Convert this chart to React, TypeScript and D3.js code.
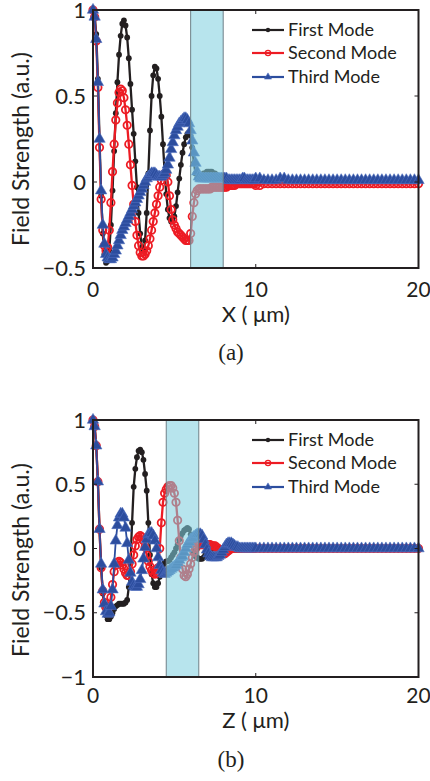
import React from "react";
import * as d3 from "d3";

// sampling positions (µm): 0.1 step up to 9.9, then 0.25 step to 20
const X_FINE = d3.range(100).map((i) => +(i * 0.1).toFixed(1));
const X_TAIL = d3.range(41).map((i) => 10 + i * 0.25);
const X_SAMPLES = X_FINE.concat(X_TAIL);

const xTicks = [0, 10, 20];
const xTickLabels = ["0", "10", "20"];
const aYTicks = [-0.5, 0, 0.5, 1];
const aYTickLabels = ["\u22120.5", "0", "0.5", "1"];
const bYTicks = [-1, -0.5, 0, 0.5, 1];
const bYTickLabels = ["\u22121", "\u22120.5", "0", "0.5", "1"];
const seriesNames = ["First Mode", "Second Mode", "Third Mode"];
const aBand = [6, 8];
const bBand = [4.5, 6.5];

// ---- panel (a) ----
const aFirst = [
  1.0, 0.97, 0.86, 0.6, 0.25, -0.08, -0.3, -0.42, -0.47, -0.46,
  -0.4, -0.25, -0.05, 0.18, 0.4, 0.58, 0.74, 0.85, 0.92, 0.94,
  0.91, 0.84, 0.72, 0.57, 0.42, 0.28, 0.12, -0.03, -0.18, -0.3,
  -0.38, -0.4, -0.34, -0.18, 0.05, 0.3, 0.5, 0.62, 0.67, 0.66,
  0.6, 0.5, 0.38, 0.22, 0.06, -0.07, -0.16, -0.21, -0.23, -0.23,
  -0.2, -0.14, -0.06, 0.02, 0.1, 0.17, 0.22, 0.26, 0.28, 0.29,
  0.27, 0.2, 0.11, 0.05, 0.02, 0.02, 0.03, 0.04, 0.05, 0.05,
  0.06, 0.06, 0.06, 0.06, 0.05, 0.05, 0.04, 0.03, 0.03, 0.02,
  0.02, 0.02, 0.02, 0.02, 0.02, 0.01, 0.01, 0.01, 0.01, 0.01,
  0.01, 0.01, 0.01, 0.01, 0.01, 0.01, 0.01, 0.01, 0.01, 0.01,
  0.01, 0.01, 0.02, 0.01, 0.01, 0.01, 0.01, 0.01, 0.01, 0.01,
  0.01, 0.01, 0.01, 0.01, 0.01, 0.01, 0.01, 0.01, 0.01, 0.01,
  0.01, 0.01, 0.01, 0.01, 0.01, 0.01, 0.01, 0.01, 0.01, 0.01,
  0.01, 0.01, 0.01, 0.01, 0.01, 0.01, 0.01, 0.01, 0.01, 0.01,
  0.01,
];
const aSecond = [
  1.0, 0.96, 0.82, 0.55, 0.2, -0.1, -0.28, -0.37, -0.4, -0.38,
  -0.28, -0.12, 0.06, 0.22, 0.36, 0.46, 0.52, 0.54, 0.53, 0.49,
  0.42, 0.33, 0.22, 0.1, -0.02, -0.13, -0.23, -0.31, -0.37, -0.41,
  -0.43, -0.43, -0.42, -0.4, -0.37, -0.33, -0.28, -0.23, -0.18, -0.13,
  -0.08, -0.03, 0.01, 0.04, 0.05, 0.04, 0.0, -0.08, -0.16, -0.22,
  -0.25, -0.27, -0.29, -0.3, -0.31, -0.32, -0.33, -0.34, -0.34, -0.34,
  -0.3, -0.2, -0.12, -0.07, -0.05, -0.04, -0.04, -0.04, -0.04, -0.04,
  -0.04, -0.04, -0.04, -0.03, -0.03, -0.03, -0.03, -0.03, -0.03, -0.03,
  -0.03, -0.03, -0.03, -0.02, -0.02, -0.02, -0.02, -0.02, -0.01, -0.01,
  -0.01, -0.01, -0.01, -0.01, -0.01, -0.01, -0.01, -0.01, -0.01, -0.01,
  -0.02, -0.02, -0.01, -0.01, -0.01, -0.01, -0.01, -0.01, -0.01, -0.01,
  -0.01, -0.01, -0.01, -0.01, -0.01, -0.01, -0.01, -0.01, -0.01, -0.01,
  -0.01, -0.01, -0.01, -0.01, -0.01, -0.01, -0.01, -0.01, -0.01, -0.01,
  -0.01, -0.01, -0.01, -0.01, -0.01, -0.01, -0.01, -0.01, -0.01, -0.01,
  -0.01,
];
const aThird = [
  1.0, 0.96, 0.83, 0.58, 0.25, -0.05, -0.25, -0.36, -0.42, -0.44,
  -0.45, -0.45, -0.44, -0.42, -0.4, -0.37, -0.34, -0.31, -0.28, -0.26,
  -0.24, -0.22, -0.2, -0.18, -0.16, -0.14, -0.12, -0.1, -0.08, -0.06,
  -0.04, -0.02, 0.0, 0.02, 0.03, 0.04, 0.05, 0.05, 0.05, 0.04,
  0.03, 0.03, 0.03, 0.04, 0.05, 0.07, 0.1, 0.14, 0.19, 0.23,
  0.27, 0.3, 0.32, 0.34, 0.35, 0.36, 0.37, 0.37, 0.36, 0.34,
  0.3, 0.24, 0.17, 0.11, 0.06, 0.03, 0.02, 0.02, 0.02, 0.02,
  0.02, 0.02, 0.02, 0.02, 0.02, 0.02, 0.02, 0.02, 0.02, 0.02,
  0.02, 0.02, 0.02, 0.01, 0.01, 0.01, 0.01, 0.01, 0.01, 0.01,
  0.01, 0.01, 0.02, 0.02, 0.01, 0.01, 0.01, 0.01, 0.01, 0.01,
  0.02, 0.02, 0.01, 0.01, 0.01, 0.01, 0.02, 0.02, 0.01, 0.01,
  0.01, 0.01, 0.01, 0.01, 0.01, 0.01, 0.01, 0.01, 0.01, 0.01,
  0.01, 0.01, 0.01, 0.01, 0.01, 0.01, 0.01, 0.01, 0.01, 0.01,
  0.01, 0.01, 0.01, 0.01, 0.01, 0.01, 0.01, 0.01, 0.01, 0.01,
  0.01,
];

// ---- panel (b) ----
const bFirst = [
  1.0, 0.95, 0.8, 0.52, 0.15, -0.15, -0.35, -0.46, -0.52, -0.55,
  -0.55, -0.53, -0.5, -0.47, -0.45, -0.44, -0.43, -0.43, -0.43, -0.43,
  -0.42, -0.4, -0.3, -0.12, 0.2, 0.48, 0.62, 0.71, 0.76, 0.77,
  0.75, 0.69, 0.58, 0.45, 0.2, -0.05, -0.2, -0.27, -0.3, -0.3,
  -0.27, -0.22, -0.17, -0.13, -0.11, -0.1, -0.1, -0.09, -0.07, -0.05,
  -0.03, 0.0, 0.03, 0.07, 0.1, 0.12, 0.14, 0.15, 0.16, 0.15,
  0.11, 0.03, -0.03, -0.06, -0.07, -0.08, -0.08, -0.08, -0.07, -0.05,
  -0.03, -0.02, -0.01, 0.0, 0.0, 0.0, 0.0, 0.0, 0.0, 0.0,
  0.0, 0.0, 0.0, 0.0, 0.0, 0.0, 0.0, 0.0, 0.0, 0.0,
  0.0, 0.0, 0.0, 0.0, 0.0, 0.0, 0.0, 0.0, 0.0, 0.0,
  0.0, 0.0, 0.0, 0.0, 0.0, 0.0, 0.0, 0.0, 0.0, 0.0,
  0.0, 0.0, 0.0, 0.0, 0.0, 0.0, 0.0, 0.0, 0.0, 0.0,
  0.0, 0.0, 0.0, 0.0, 0.0, 0.0, 0.0, 0.0, 0.0, 0.0,
  0.0, 0.0, 0.0, 0.0, 0.0, 0.0, 0.0, 0.0, 0.0, 0.0,
  0.0,
];
const bSecond = [
  1.0, 0.95, 0.8, 0.52, 0.15, -0.15, -0.33, -0.42, -0.46, -0.47,
  -0.45, -0.38, -0.28, -0.18, -0.13, -0.11, -0.1, -0.11, -0.13, -0.16,
  -0.19, -0.21, -0.21, -0.18, -0.12, -0.05, 0.02, 0.07, 0.09, 0.1,
  0.09, 0.06, 0.01, -0.05, -0.1, -0.14, -0.17, -0.19, -0.2, -0.19,
  -0.15, 0.0, 0.2, 0.36, 0.43, 0.46, 0.48, 0.49, 0.49, 0.47,
  0.43, 0.36, 0.22, 0.06, -0.07, -0.16, -0.21, -0.22, -0.2, -0.16,
  -0.12, -0.07, -0.03, 0.0, 0.02, 0.03, 0.03, 0.03, 0.03, 0.03,
  0.03, 0.03, 0.03, 0.02, 0.02, 0.02, 0.01, 0.0, -0.02, -0.03,
  -0.04, -0.04, -0.03, -0.02, -0.01, 0.0, 0.0, 0.0, 0.0, 0.0,
  0.0, 0.0, 0.0, 0.0, 0.0, 0.0, 0.0, 0.0, 0.0, 0.0,
  0.0, 0.0, 0.0, 0.0, 0.0, 0.0, 0.0, 0.0, 0.0, 0.0,
  0.0, 0.0, 0.0, 0.0, 0.0, 0.0, 0.0, 0.0, 0.0, 0.0,
  0.0, 0.0, 0.0, 0.0, 0.0, 0.0, 0.0, 0.0, 0.0, 0.0,
  0.0, 0.0, 0.0, 0.0, 0.0, 0.0, 0.0, 0.0, 0.0, 0.0,
  0.0,
];
const bThird = [
  1.0, 0.95, 0.8, 0.52, 0.15, -0.12, -0.32, -0.43, -0.49, -0.51,
  -0.5, -0.45, -0.32, -0.12, 0.06, 0.18, 0.24, 0.27, 0.27, 0.24,
  0.16, 0.04, -0.09, -0.19, -0.26, -0.29, -0.3, -0.3, -0.28, -0.24,
  -0.17, -0.08, 0.01, 0.07, 0.11, 0.12, 0.12, 0.1, 0.06, 0.0,
  -0.07, -0.13, -0.17, -0.19, -0.2, -0.19, -0.18, -0.17, -0.16, -0.15,
  -0.14, -0.13, -0.11, -0.09, -0.07, -0.06, -0.03, 0.0, 0.03, 0.05,
  0.07, 0.08, 0.09, 0.1, 0.11, 0.11, 0.11, 0.1, 0.07, 0.03,
  -0.01, -0.04, -0.06, -0.07, -0.07, -0.07, -0.07, -0.06, -0.05, -0.03,
  -0.01, 0.01, 0.03, 0.04, 0.04, 0.04, 0.03, 0.02, 0.01, 0.01,
  0.0, 0.0, 0.0, 0.0, 0.0, 0.0, 0.0, 0.0, 0.0, 0.0,
  0.0, 0.0, 0.0, 0.0, 0.0, 0.0, 0.0, 0.0, 0.0, 0.0,
  0.0, 0.0, 0.0, 0.0, 0.0, 0.0, 0.0, 0.0, 0.0, 0.0,
  0.0, 0.0, 0.0, 0.0, 0.0, 0.0, 0.0, 0.0, 0.0, 0.0,
  0.0, 0.0, 0.0, 0.0, 0.0, 0.0, 0.0, 0.0, 0.0, 0.0,
  0.0,
];

const BLACK = "#231f20";
const RED = "#ed1c24";
const BLUE = "#2c4d9e";
const SANS = "Lato, 'Open Sans', sans-serif";
const TRI = d3.symbol(d3.symbolTriangle, 56)() as string;
const TRI_SMALL = d3.symbol(d3.symbolTriangle, 22)() as string;

type PanelProps = {
  top: number;
  bottom: number;
  yDomain: [number, number];
  yTicks: number[];
  yTickLabels: string[];
  band: number[];
  series: number[][];
  xLabel: string;
  caption: string;
  tickBaseline: number;
  xLabelBaseline: number;
  captionBaseline: number;
  legendRows: number[];
  yLabelCenter: number;
};

function Marker({ kind, cx, cy, small }: { kind: number; cx: number; cy: number; small?: boolean }) {
  if (kind === 0) return <circle cx={cx} cy={cy} r={small ? 2.2 : 2.9} fill={BLACK} />;
  if (kind === 1)
    return <circle cx={cx} cy={cy} r={small ? 2.6 : 3.7} fill="none" stroke={RED} strokeWidth={small ? 1.3 : 1.8} />;
  return (
    <path
      d={small ? TRI_SMALL : TRI}
      transform={`translate(${cx},${cy})`}
      fill={BLUE}
      stroke="#4f6fbf"
      strokeWidth={0.6}
    />
  );
}

function Panel(p: PanelProps) {
  const x = d3.scaleLinear().domain([0, 20]).range([93, 418.5]);
  const y = d3.scaleLinear().domain(p.yDomain).range([p.bottom, p.top]);
  const line = d3
    .line<number>()
    .x((_, i) => x(X_SAMPLES[i]))
    .y((d) => y(d));
  const colors = [BLACK, RED, BLUE];
  const widths = [2.3, 2.3, 1.8];
  const left = x(0);
  const right = x(20);
  return (
    <g>
      {p.series.map((vals, k) => (
        <g key={k}>
          <path d={line(vals) as string} fill="none" stroke={colors[k]} strokeWidth={widths[k]} strokeLinejoin="round" />
          {vals.map((v, i) => (
            <Marker key={i} kind={k} cx={x(X_SAMPLES[i])} cy={y(v)} />
          ))}
        </g>
      ))}
      {/* shaded region */}
      <rect
        x={x(p.band[0])}
        y={p.top}
        width={x(p.band[1]) - x(p.band[0])}
        height={p.bottom - p.top}
        fill="#7fcfdf"
        fillOpacity={0.56}
      />
      <line x1={x(p.band[0])} x2={x(p.band[0])} y1={p.top} y2={p.bottom} stroke="#6e8088" strokeWidth={1} />
      <line x1={x(p.band[1])} x2={x(p.band[1])} y1={p.top} y2={p.bottom} stroke="#6e8088" strokeWidth={1} />
      {/* ticks */}
      {p.yTicks.map((t) => (
        <g key={"y" + t}>
          <line x1={left} x2={left + 4} y1={y(t)} y2={y(t)} stroke={BLACK} strokeWidth={1} />
          <line x1={right} x2={right - 4} y1={y(t)} y2={y(t)} stroke={BLACK} strokeWidth={1} />
        </g>
      ))}
      {xTicks.map((t) => (
        <g key={"x" + t}>
          <line x1={x(t)} x2={x(t)} y1={p.bottom} y2={p.bottom - 4} stroke={BLACK} strokeWidth={1} />
          <line x1={x(t)} x2={x(t)} y1={p.top} y2={p.top + 4} stroke={BLACK} strokeWidth={1} />
        </g>
      ))}
      {/* frame */}
      <rect x={left} y={p.top} width={right - left} height={p.bottom - p.top} fill="none" stroke={BLACK} strokeWidth={2} />
      {/* tick labels */}
      {p.yTicks.map((t, i) => (
        <text key={"yl" + t} x={left - 7} y={y(t)} dy="0.35em" textAnchor="end" fontFamily={SANS} fontSize={22} fill={BLACK}>
          {p.yTickLabels[i]}
        </text>
      ))}
      {xTicks.map((t, i) => (
        <text key={"xl" + t} x={x(t)} y={p.tickBaseline} textAnchor="middle" fontFamily={SANS} fontSize={21} fill={BLACK}>
          {xTickLabels[i]}
        </text>
      ))}
      <text x={x(10)} y={p.xLabelBaseline} textAnchor="middle" fontFamily={SANS} fontSize={22} fill={BLACK}>
        {p.xLabel}
      </text>
      <text
        transform={`translate(29,${p.yLabelCenter}) rotate(-90)`}
        textAnchor="middle"
        fontFamily={SANS}
        fontSize={23}
        fill={BLACK}
      >
        Field Strength (a.u.)
      </text>
      {/* legend */}
      {seriesNames.map((name, k) => (
        <g key={name}>
          <line x1={252} x2={284} y1={p.legendRows[k]} y2={p.legendRows[k]} stroke={colors[k]} strokeWidth={2.2} />
          <Marker kind={k} cx={268} cy={p.legendRows[k]} small />
          <text x={288} y={p.legendRows[k]} dy="0.36em" fontFamily={SANS} fontSize={18} fill={BLACK}>
            {name}
          </text>
        </g>
      ))}
      <text x={231} y={p.captionBaseline} textAnchor="middle" fontFamily="'Liberation Serif', 'DejaVu Serif', serif" fontSize={23} fill={BLACK}>
        {p.caption}
      </text>
    </g>
  );
}

export default function App() {
  return (
    <svg width={430} height={781} style={{ position: "absolute", left: 0, top: 0, background: "#fff" }}>
      <rect width={430} height={781} fill="#fff" />
      <Panel
        top={10}
        bottom={268}
        yDomain={[-0.5, 1]}
        yTicks={aYTicks}
        yTickLabels={aYTickLabels}
        band={aBand}
        series={[aFirst, aSecond, aThird]}
        xLabel="X ( μm)"
        caption="(a)"
        tickBaseline={297}
        xLabelBaseline={322}
        captionBaseline={360}
        legendRows={[30, 53, 77]}
        yLabelCenter={149}
      />
      <Panel
        top={420}
        bottom={677}
        yDomain={[-1, 1]}
        yTicks={bYTicks}
        yTickLabels={bYTickLabels}
        band={bBand}
        series={[bFirst, bSecond, bThird]}
        xLabel="Z ( μm)"
        caption="(b)"
        tickBaseline={703}
        xLabelBaseline={728}
        captionBaseline={767}
        legendRows={[440, 463, 487]}
        yLabelCenter={560}
      />
    </svg>
  );
}
